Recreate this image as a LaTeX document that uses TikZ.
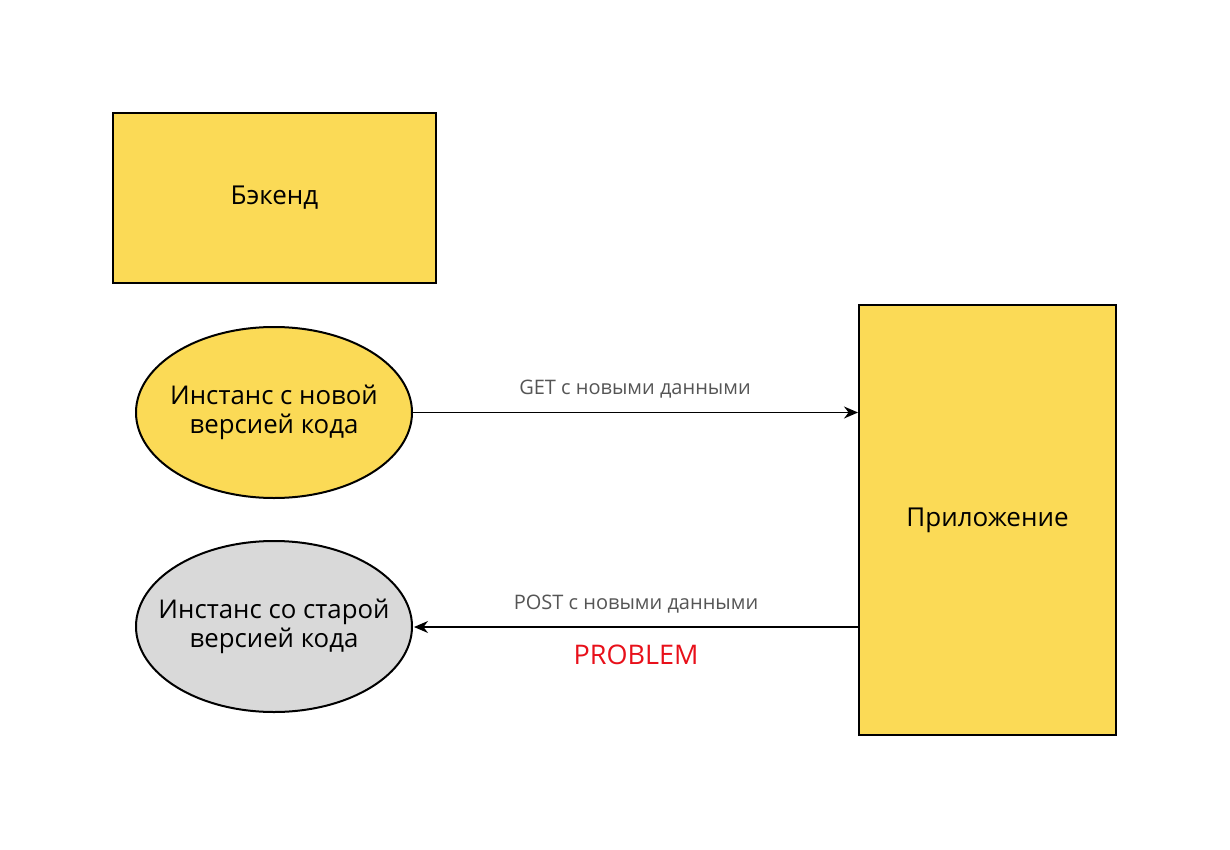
\documentclass[tikz,border=0pt]{standalone}
\usepackage{fontspec}
\setmainfont{Open Sans}
\usetikzlibrary{shapes.geometric,arrows.meta}
\definecolor{yel}{HTML}{FBDA56}
\definecolor{gry}{HTML}{D9D9D9}
\definecolor{lbl}{HTML}{555555}
\definecolor{prob}{HTML}{E8101A}
\begin{document}
\begin{tikzpicture}[x=0.5pt,y=-0.5pt,
  box/.style={draw=black,line width=1pt,fill=yel,inner sep=0pt,font=\fontsize{13}{14.5}\selectfont,align=center},
  oval/.style={ellipse,draw=black,line width=1pt,inner sep=0pt,minimum width=138pt,minimum height=85.5pt},
  ovaltext/.style={font=\fontsize{12.9}{14.5}\selectfont,align=center,inner sep=0pt},
  conn/.style={draw=black,line width=0.75pt,-{Stealth[length=7pt,width=6pt]}},
  lab/.style={text=lbl,font=\fontsize{10}{11}\selectfont},
]
\useasboundingbox[fill=white] (0,0) rectangle (1230,850);
\node[box,minimum width=161.5pt,minimum height=85pt] (be) at (274.5,198) {Бэкенд};
\node[box,minimum width=128.5pt,minimum height=215pt] (app) at (987.5,520) {Приложение};
\node[oval,fill=yel] (new) at (274,412.5) {};
\node[ovaltext] (newt) at (new) {Инстанс с новой\\версией кода};
\node[oval,fill=gry] (old) at (274,626.5) {};
\node[ovaltext] (oldt) at (old) {Инстанс со старой\\версией кода};
\coordinate (a1) at (app.west |- new.east);
\coordinate (a2) at (app.west |- 0,627);
\coordinate (e2) at (414,627);
\draw[conn] (new.east) -- (a1);
\draw[conn] (a2) -- (e2);
\node[lab] (l1) at (635,389) {GET с новыми данными};
\node[lab] (l2) at (636,604) {POST с новыми данными};
\node[text=prob,font=\fontsize{13.5}{15}\selectfont] (pr) at (636,655) {PROBLEM};
\end{tikzpicture}
\end{document}
